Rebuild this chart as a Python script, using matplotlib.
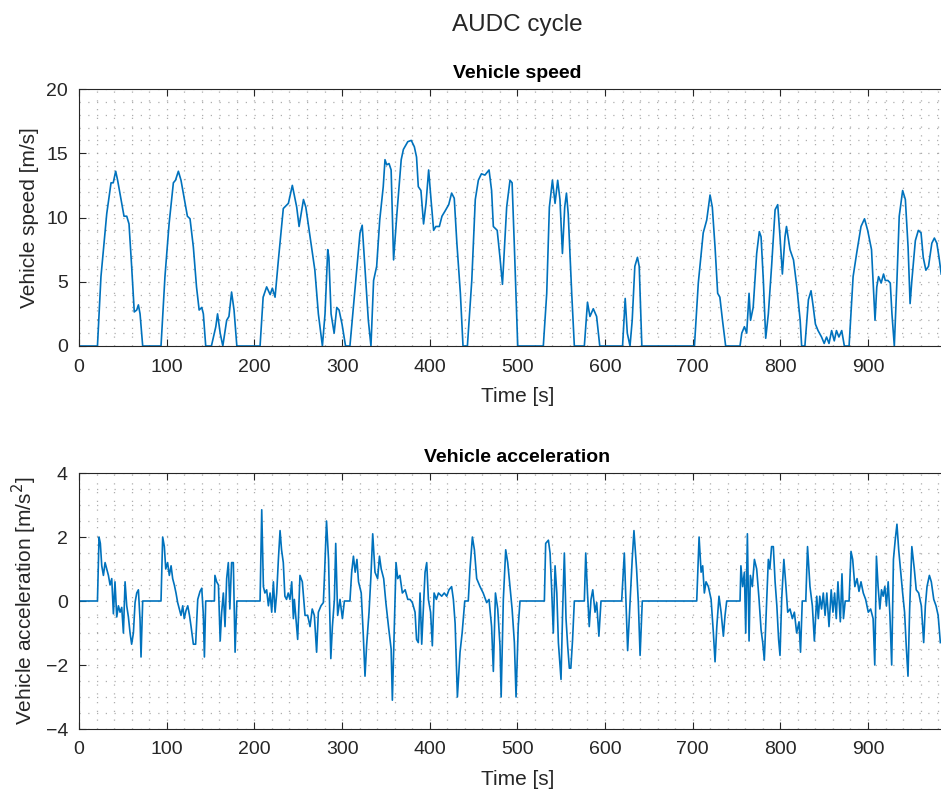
import matplotlib
matplotlib.use('Agg')
import matplotlib.pyplot as plt
import numpy as np
from matplotlib.ticker import MultipleLocator

plt.rcParams['font.family'] = ['Liberation Sans', 'DejaVu Sans']

# speed [s], [m/s]
t_speed = [0, 21, 25, 31.6, 36.5, 39, 41.8, 44, 48.7, 51.3, 54.4, 57, 60, 63, 65.8, 67.7, 69.6, 72.6,
           93.5, 98, 102.7, 107.6, 110, 113.3, 116.3, 121, 123.6, 126.6, 130.4, 134, 137, 140, 141.8, 144.5,
           151, 156, 158, 161, 164, 168.4, 171, 174, 176.8, 180,
           206.5, 210, 214, 218, 220.5, 223.6, 227.4, 233, 238.8, 243.3, 248.3, 251, 256, 258.7, 263.5, 269,
           273, 277.6, 280.6, 283.7, 285, 287.5, 291, 294, 296.6, 300, 304,
           309, 315.6, 320.5, 323, 326, 330, 333, 336, 339.5, 343, 347, 349, 351, 353.6, 356, 358.8, 362.6,
           367.5, 370, 375, 379, 382.5, 385, 387, 390, 393, 395.8, 398.8, 401.5, 404.5, 407, 411, 414, 417.5,
           421.7, 425, 428, 431, 435, 438,
           443, 448, 452, 455.5, 459, 463, 467.7, 470.6, 472.6, 477, 480, 483, 487.8, 491.6, 494, 496.6, 500.4,
           529.6, 533.5, 536.5, 540, 543, 546, 548.6, 551.4, 554, 556, 558, 562, 565,
           576.4, 580, 582.8, 586.6, 590.4, 594,
           620, 623, 625.4, 628.5, 631, 634, 637, 639, 642,
           702, 706.4, 712, 716, 719.8, 722.4, 725.5, 728.5, 731, 734, 737.6,
           754, 756, 759, 761.6, 764.3, 766, 769, 773, 776, 778, 780.6, 783.3, 786.3, 790, 794, 797, 799.6,
           802.3, 805.3, 807, 811, 815, 818.8, 822.6, 824.3,
           828, 832, 835, 837.6, 840, 843, 847, 850, 852.7, 855.5, 858.5, 861.5, 864, 866.8, 870, 873,
           878.4, 883, 887, 892, 896, 899.6, 904, 908, 910, 912, 915, 917.7, 919.7, 922.7, 925.4, 927.3, 930,
           933, 935.6, 939.5, 942.6, 945.7, 948, 950, 954, 957.4, 960.5, 963, 966, 969, 972.8, 975.7, 978.5,
           981, 983.5]
v_speed = [0, 0, 5.4, 10.3, 12.7, 12.7, 13.6, 12.9, 11.1, 10.1, 10.1, 9.5, 6.2, 2.65, 2.8, 3.2, 2.5, 0,
           0, 5.4, 9.5, 12.7, 12.9, 13.6, 12.9, 11.1, 10.1, 9.9, 7.7, 4.6, 2.8, 3.0, 2.5, 0,
           0, 1.5, 2.5, 1.0, 0, 2.0, 2.3, 4.2, 2.8, 0,
           0, 3.8, 4.6, 4.0, 4.5, 3.8, 6.7, 10.7, 11.1, 12.5, 10.8, 9.3, 11.4, 10.8, 8.5, 5.9,
           2.5, 0, 2.5, 7.5, 6.9, 2.5, 1.0, 3.0, 2.8, 1.7, 0,
           0, 5.1, 8.8, 9.4, 6.2, 2.0, 0, 5.1, 6.2, 9.8, 12.4, 14.5, 14.1, 14.2, 13.7, 6.7, 10.3,
           14.5, 15.3, 15.9, 16.0, 15.5, 14.7, 12.4, 12.1, 9.5, 11.1, 13.7, 11.4, 9.0, 9.3, 9.3, 10.1, 10.5,
           11.0, 11.9, 11.5, 8.0, 4.1, 0,
           0, 5.1, 11.4, 12.9, 13.4, 13.3, 13.7, 12.1, 9.3, 9.0, 7.0, 4.8, 10.8, 12.9, 12.7, 7.7, 0,
           0, 4.1, 10.8, 12.9, 11.1, 12.9, 11.4, 7.2, 10.8, 11.9, 10.3, 4.1, 0,
           0, 3.4, 2.3, 2.9, 2.3, 0,
           0, 3.7, 1.0, 0, 2.0, 6.2, 6.9, 6.2, 0,
           0, 4.9, 8.8, 9.8, 11.75, 10.8, 7.7, 4.1, 3.8, 2.0, 0,
           0, 1.0, 1.5, 1.0, 4.1, 2.0, 3.0, 7.2, 8.9, 8.5, 5.1, 0.6, 2.5, 6.2, 10.6, 11.0, 8.5,
           5.6, 8.5, 9.3, 7.5, 6.7, 4.6, 2.0, 0,
           0, 3.6, 4.3, 3.0, 1.7, 1.2, 0.7, 0.2, 0.7, 0.2, 1.2, 0.4, 1.2, 0.7, 1.2, 0,
           0, 5.4, 7.2, 9.3, 9.9, 9.0, 7.5, 2.0, 4.6, 5.4, 4.9, 5.6, 5.1, 5.1, 4.9, 2.5, 0,
           5.1, 10.1, 12.1, 11.4, 7.7, 3.3, 5.1, 8.2, 9.0, 8.8, 6.9, 5.9, 6.2, 8.0, 8.4, 8.0,
           6.9, 5.6]

# acceleration [s], [m/s^2]
t_acc = [0, 21, 22.8, 24.3, 25.9, 27.8, 29.7, 31.6, 33.5, 35.4, 37.3, 39.2, 41, 43, 44.9, 46.8, 48.7,
         50.6, 52.5, 54.4, 56.3, 58.2, 60, 62, 63.9, 65.8, 67.7, 69.6, 70.7, 72.6,
         93.5, 95.4, 97.3, 98.9, 101, 103, 105, 106.8, 108.7, 110.6, 112.5, 114.4, 116.3, 118.3, 120, 122,
         124, 126, 127.8, 130.4, 133, 135.4, 138, 140, 141.8, 143, 144.5,
         154.4, 155, 157, 159, 161, 162.7, 164.6, 166.5, 168.4, 170.3, 172, 174, 176, 178, 180,
         206.5, 208.4, 210.3, 212, 214, 216, 217.9, 219.8, 221.7, 223.6, 225.5, 227.4, 229.3, 231, 233,
         234.8, 236.7, 238.6, 240.6, 242.6, 244.5, 245.6, 249.4, 252, 254.7, 257.8, 260.8, 263.5, 266,
         268.4, 271, 273, 276, 278.7, 280, 282.3, 284.6, 287.2, 289, 291.3, 292.8, 295, 297.7, 300.4, 302.7,
         309, 311, 313, 315, 317, 318.8, 321.9, 324.3, 326.2, 328, 330.8, 333, 335, 337.6, 340.6, 342.7,
         344.7, 347.5, 350, 353, 356, 357.4, 359, 361.6, 363.5, 366, 368.8, 372, 375, 377.6, 380.2, 383.3,
         385, 387, 389, 390.9, 392.8, 394.7, 396.6, 398.5, 401, 403, 405, 407.6, 410, 413.7, 416.6, 419.4,
         422, 425, 427, 429, 431.6, 434.6, 437, 440,
         444, 446, 448.7, 451, 453.6, 457.4, 461, 465, 467.7, 470.6, 472.6, 475, 477.6, 480.2, 481.5, 484,
         486.7, 489, 491.6, 494, 496.6, 498.5, 501, 503,
         530.8, 532.3, 535.4, 537.3, 539, 541, 543, 545, 546.8, 549.8, 551.7, 553.6, 555.5, 557.4, 559.3,
         561, 563, 565,
         576.4, 578, 580, 582, 584, 586, 588.6, 590.5, 593, 595.4,
         619, 622, 623.9, 625.8, 628.5, 631, 633, 636, 638, 640, 642.5,
         704.6, 707.3, 709.6, 711.4, 713.3, 715.2, 717.9, 721, 723.6, 725.5, 727.5, 730, 732.4, 735, 736.9,
         738.8,
         754, 755, 757, 759, 760.5, 762.4, 764.3, 765.8, 768, 770.4, 773, 775.7, 778, 779.9, 781.7, 784.4,
         786.3, 788, 790, 792, 794, 796, 798, 799.6, 801.5, 804, 806, 808.4, 811, 813.7, 816, 818.6, 821.3,
         823, 825,
         829, 831, 833.8, 836.5, 838.8, 841.5, 843.3, 845, 847, 849, 851, 853, 855.5, 858, 860, 861.9,
         863.8, 865.7, 868.4, 870.3, 872, 874,
         878.4, 880.6, 882.5, 885, 887.5, 889.7, 892, 894.6, 897.3, 900.3, 903, 905.8, 907.7, 909.6, 911.5,
         913.5, 915.4, 917.3, 919.2, 921, 923, 925, 927, 929, 931, 933, 935, 937, 939.5, 941.7, 943.6,
         945.6, 947.5, 950, 952.8, 955, 957.8, 960.8, 963.5, 965.4, 967.3, 970, 972.2, 975, 977.6, 980,
         982.5]
a_acc = [0, 0, 2.0, 1.8, 1.1, 0.8, 1.2, 1.0, 0.8, 0.5, 0.7, -0.4, 0.6, -0.5, -0.15, -0.35, -0.2,
         -1.0, 0.6, -0.15, -0.5, -1.0, -1.35, -1.0, -0.05, 0.25, 0.35, -0.6, -1.75, 0,
         0, 2.0, 1.7, 1.0, 1.2, 0.8, 1.1, 0.7, 0.5, 0.25, -0.05, -0.25, -0.45, -0.15, -0.55, -0.3,
         -0.15, -0.45, -0.8, -1.35, -1.35, 0.05, 0.3, 0.4, -0.45, -1.75, 0,
         0, 0.8, 0.6, 0.5, -1.25, -0.35, 0.25, -0.8, 0.7, 1.2, -0.25, 1.2, 1.2, -1.6, 0,
         0, 2.85, 0.45, 0.25, 0.35, -0.15, 0.25, -0.35, 0.6, -0.35, 0.25, 1.3, 2.2, 1.6, 1.2,
         0.15, 0.05, 0.25, 0.05, 0.6, -0.55, 0.05, -1.2, 0.8, 0.6, -0.45, -0.45, -0.8, -0.25,
         -0.45, -1.6, -0.35, -0.15, -0.05, 0.8, 2.5, 1.3, -1.8, -0.8, 0.05, 1.8, -0.45, 0.05, -0.55, 0,
         0, 0.9, 1.4, 0.9, 1.3, 0.6, 0.25, -1.1, -2.35, -1.4, -0.35, 0.8, 2.1, 0.9, 0.7, 1.4,
         1.0, 0.7, -0.05, -0.8, -1.5, -3.1, -1.5, 1.2, 0.7, 0.8, 0.25, 0.35, 0.05, 0.05, -0.05, -0.35,
         -1.2, -1.3, 0.25, -1.35, -0.25, 0.9, 1.2, 0.05, -0.35, -1.4, 0.25, 0.05, 0.25, 0.15, 0.25, 0.15,
         0.35, 0.45, 0.05, -0.7, -3.0, -1.6, -1.0, 0,
         0, 1.0, 2.0, 1.6, 0.7, 0.45, 0.25, -0.05, 0.05, -0.8, -2.2, 0.25, -0.25, -1.4, -3.0, 0.05,
         1.6, 1.2, 0.45, -0.25, -1.3, -3.0, -0.8, 0,
         0, 1.8, 1.9, 1.5, 0.45, -1.0, 1.1, 0.25, -1.3, -2.45, -0.25, 1.5, -0.55, -1.4, -2.1,
         -2.1, -1.2, 0,
         0, 1.5, 0.25, -0.8, 0.05, 0.35, -0.35, -0.05, -1.1, 0,
         0, 1.5, -0.05, -1.55, -0.05, 1.3, 2.2, 1.0, -0.05, -1.7, 0,
         0, 2.0, 0.9, 1.1, 0.25, 0.6, 0.45, 0.05, -1.0, -1.9, -0.8, 0.15, -0.35, -1.1, -0.45,
         0,
         0, 1.1, 0.45, 0.9, -1.0, 2.1, -1.25, 0.8, 0.45, 1.3, 1.0, 0.05, -0.9, -1.3, -1.85, 0.05,
         1.3, 1.0, 1.7, 1.7, 0.6, -0.15, -1.2, -1.7, 0.05, 1.3, 0.6, -0.35, -0.25, -0.55, -0.35, -1.0, -0.65,
         -1.6, 0,
         0, 1.7, 0.45, -0.15, -1.25, 0.15, -0.55, 0.15, -0.25, 0.25, -0.45, 0.25, -0.8, 0.35, -0.35, 0.25,
         -0.55, 0.6, -0.65, 0.85, -0.55, 0,
         0, 1.55, 1.3, 0.45, 0.7, 0.3, 0.6, 0.25, 0.05, -0.35, -0.25, -0.55, -2.0, 1.4, 0.45,
         -0.25, 0.35, 0.15, 0.45, -0.15, 0.6, -0.45, -2.0, 1.3, 1.9, 2.4, 1.6, 1.0, 0.25, -0.35, -1.4,
         -2.35, -0.25, 1.7, 1.0, 0.35, 0.25, -0.15, -1.3, -0.15, 0.45, 0.8, 0.6, 0.05, -0.15, -0.45,
         -1.3]

x_ticks = [0, 100, 200, 300, 400, 500, 600, 700, 800, 900]

blue = '#0072BD'
txt = '#262626'

fig = plt.figure(figsize=(9.41, 8), dpi=100)
fig.suptitle('AUDC cycle', x=0.55, y=0.982, fontsize=17.5, color=txt)

panels = [
    ([0.084, 0.5675, 0.9316, 0.32125], t_speed, v_speed, 'Vehicle speed', 'Vehicle speed [m/s]',
     (0, 20), 5, 1),
    ([0.084, 0.08875, 0.9316, 0.32], t_acc, a_acc, 'Vehicle acceleration',
     'Vehicle acceleration [m/s$^2$]', (-4, 4), 2, 0.5),
]

for pos, t, y, title, ylab, ylim, ymaj, ymin in panels:
    ax = fig.add_axes(pos)
    ax.plot(t, y, color=blue, lw=1.2)
    ax.set_xlim(0, 1000)
    ax.set_ylim(*ylim)
    ax.set_xticks(x_ticks)
    ax.xaxis.set_minor_locator(MultipleLocator(20))
    ax.yaxis.set_major_locator(MultipleLocator(ymaj))
    ax.yaxis.set_minor_locator(MultipleLocator(ymin))
    ax.grid(which='both', linestyle=(0, (1, 6)), color='#9a9a9a', lw=0.9, alpha=0.8)
    ax.set_axisbelow(True)
    ax.tick_params(which='major', direction='in', top=True, right=True, length=5,
                   labelsize=14, colors=txt, width=0.8)
    ax.tick_params(axis='x', which='major', pad=9)
    ax.tick_params(axis='y', which='major', pad=8)
    ax.tick_params(which='minor', length=0)
    for s in ax.spines.values():
        s.set_color(txt)
        s.set_linewidth(0.8)
    ax.set_title(title, fontsize=14, fontweight='bold', pad=8)
    ax.set_xlabel('Time [s]', fontsize=15, color=txt, labelpad=8)
    ax.set_ylabel(ylab, fontsize=15, color=txt, labelpad=5)

fig.savefig('out.png', dpi=100)
